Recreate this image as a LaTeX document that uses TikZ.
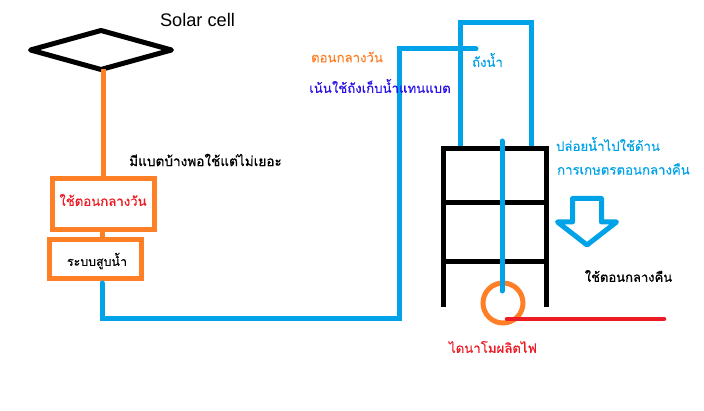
\documentclass[tikz,border=0pt]{standalone}
\usepackage{fontspec}
\setmainfont{Liberation Sans}
\newfontfamily\thaifont[Script=Thai,FakeBold=0.25]{Loma}
\newfontfamily\thaibold[Script=Thai,FakeBold=0.9]{Loma}
\usetikzlibrary{shapes.geometric}
\definecolor{cOrange}{HTML}{FF7F27}
\definecolor{cBlue}{HTML}{00A2E8}
\definecolor{cRed}{HTML}{ED1C24}
\definecolor{cInd}{HTML}{2A10E8}
\tikzset{
  thai/.style={font=\thaifont\fontsize{13.2}{15}\selectfont, inner sep=0, outer sep=0},
  thaib/.style={font=\thaibold\fontsize{13.6}{15}\selectfont, inner sep=0, outer sep=0},
  thais/.style={font=\thaifont\fontsize{12.4}{15}\selectfont, inner sep=0, outer sep=0},
  wire/.style={line width=5pt, line cap=round, line join=miter},
  box/.style={draw=cOrange, line width=5pt, inner sep=0, outer sep=0, fill=white},
  postline/.style={line width=5pt, black},
}
\begin{document}
\begin{tikzpicture}[x=1pt,y=-1pt]
\useasboundingbox (0,0) rectangle (704,411);
% coordinates
\coordinate (a1) at (102,283);
\coordinate (a2) at (102,319);
\coordinate (a3) at (399,319);
\coordinate (a4) at (399,49);
\coordinate (a5) at (476,49);
\coordinate (t1) at (460.5,148);
\coordinate (t2) at (460.5,22.5);
\coordinate (t3) at (531,22.5);
\coordinate (t4) at (531,148);
\coordinate (p1) at (502,141);
\coordinate (p2) at (502,291);
\coordinate (k1) at (443,307);
\coordinate (k2) at (443,149);
\coordinate (k3) at (546,149);
\coordinate (k4) at (546,307);
\coordinate (r1a) at (443,203);
\coordinate (r1b) at (548,203);
\coordinate (r2a) at (443,262);
\coordinate (r2b) at (548,262);
\coordinate (e1) at (507,319);
\coordinate (e2) at (664,319);
% solar panel and boxes
\node[diamond, draw=black, line width=5pt, line join=round, aspect=3.6, inner sep=0, outer sep=0,
      minimum width=141pt, minimum height=39pt] (solar) at (101,50) {};
\node[box, minimum width=102pt, minimum height=51pt] (day) at (103.5,204) {};
\node[box, minimum width=92pt, minimum height=39pt] (pump) at (95.5,259) {};
\draw[line width=5pt, cOrange] (day.north |- solar.south) -- (day.north);
\draw[line width=5pt, cOrange] (102.5,229.5) coordinate (c1) -- (102.5,239.5) coordinate (c2);
% water pipe and tank
\draw[line width=5pt, cBlue, line join=miter, line cap=round] (a1) -- (a2) -- (a3) -- (a4) -- (a5);
\draw[line width=5pt, cBlue, line join=miter] (t1) -- (t2) -- (t3) -- (t4);
% tower
\draw[postline, line join=miter] (k1) -- (k2) -- (k3) -- (k4);
\draw[postline] (r1a) -- (r1b);
\draw[postline] (r2a) -- (r2b);
% dynamo
\node[circle, draw=cOrange, line width=5pt, minimum size=40pt, inner sep=0, outer sep=0] (dyn) at (503,303) {};
\draw[wire, cBlue] (p1) -- (p2);
\draw[wire, cRed, line width=4.5pt] (e1) -- (e2);
% big arrow
\draw[line width=5pt, cBlue, line join=round]
  (572.5,198.5) coordinate (b1) -- (601.5,198.5) coordinate (b2) -- (601.5,222) coordinate (b3) -- (616.5,222) coordinate (b4)
  -- (587,245) coordinate (b5) -- (557.5,222) coordinate (b6) -- (572.5,222) coordinate (b7) -- cycle;
% texts
\node[font=\fontsize{18.2}{20}\selectfont, inner sep=0] (solartxt) at (197.5,20) {Solar cell};
\node[thaib] (t-batt) at (205.5,160) {มีแบตบ้างพอใช้แต่ไม่เยอะ};
\node[thai, text=cRed] (t-day) at (103,200) {ใช้ตอนกลางวัน};
\node[thais] (t-pump) at (97,261) {ระบบสูบน้ำ};
\node[thai, text=cOrange] (t-noon) at (347,57) {ตอนกลางวัน};
\node[thai, text=cInd] (t-main) at (380,86) {เน้นใช้ถังเก็บน้ำแทนแบต};
\node[thai, text=cBlue] (t-tank) at (487.5,60) {ถังน้ำ};
\node[thai, text=cBlue] (t-rel) at (608,144) {ปล่อยน้ำไปใช้ด้าน};
\node[thai, text=cBlue] (t-agr) at (623.5,169) {การเกษตรตอนกลางคืน};
\node[thaib, font=\thaibold\fontsize{13}{15}\selectfont] (t-night) at (628.5,276) {ใช้ตอนกลางคืน};
\node[thai, text=cRed] (t-dyn) at (493,347) {ไดนาโมผลิตไฟ};
\end{tikzpicture}
\end{document}
